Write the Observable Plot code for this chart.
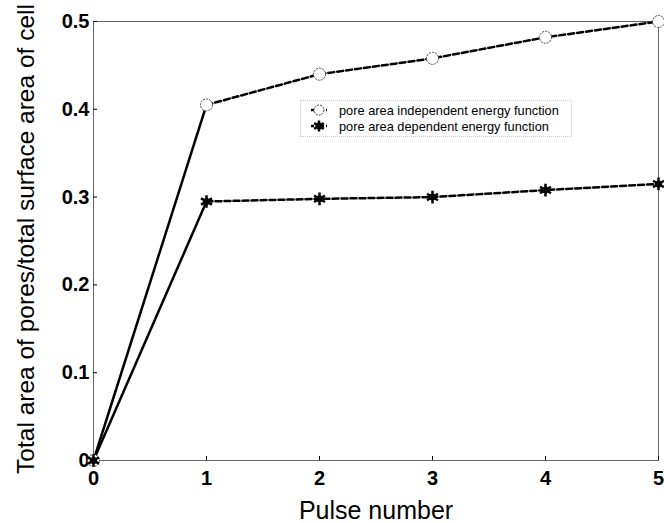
<!DOCTYPE html>
<html>
<head>
<meta charset="utf-8">
<script src="https://cdn.jsdelivr.net/npm/d3@7"></script>
<script src="https://cdn.jsdelivr.net/npm/@observablehq/plot@0.6"></script>
<style>
  body { margin: 0; background: #fff; }
  #wrap { position: relative; width: 664px; height: 523px; font-family: "Liberation Sans", Arial, sans-serif; }
  #legend { position: absolute; left: 300px; top: 100px; width: 272px; height: 37px; border: 1px dotted #ccc; box-sizing: border-box; font-size: 12.8px; color: #000; }
  #legend .row { position: absolute; left: 8px; height: 16px; display: flex; align-items: center; white-space: nowrap; }
  #legend svg { margin-right: 10px; }
</style>
</head>
<body>
<div id="wrap"></div>
<script>
const pulses = [0, 1, 2, 3, 4, 5];
const independent = [0, 0.405, 0.44, 0.458, 0.482, 0.5];
const dependent = [0, 0.295, 0.298, 0.300, 0.308, 0.315];
const seriesNames = ["pore area independent energy function", "pore area dependent energy function"];
const xTicks = [0, 1, 2, 3, 4, 5];
const yTicks = [0, 0.1, 0.2, 0.3, 0.4, 0.5];

const data = [];
pulses.forEach((p, i) => {
  data.push({pulse: p, value: independent[i], series: seriesNames[0]});
  data.push({pulse: p, value: dependent[i], series: seriesNames[1]});
});
const first = data.filter(d => d.pulse <= 1);
const rest = data.filter(d => d.pulse >= 1);

const chart = Plot.plot({
  width: 664,
  height: 523,
  marginLeft: 93,
  marginRight: 6,
  marginTop: 21,
  marginBottom: 63,
  style: {fontFamily: "Liberation Sans, Arial, sans-serif", background: "#fff", color: "#000"},
  x: {domain: [0, 5]},
  y: {domain: [0, 0.5]},
  marks: [
    Plot.frame({stroke: "#666", strokeWidth: 1}),
    Plot.axisX({ticks: xTicks, tickSize: -4, tickPadding: 14, fontSize: 20, fontWeight: "bold", label: null, tickFormat: d => String(d)}),
    Plot.axisY({ticks: yTicks, tickSize: -4, tickPadding: 8, fontSize: 20, fontWeight: "bold", label: null, tickFormat: d => String(d)}),
    Plot.line(first, {x: "pulse", y: "value", z: "series", stroke: "#000", strokeWidth: 2.5}),
    Plot.line(rest, {x: "pulse", y: "value", z: "series", stroke: "#000", strokeWidth: 2.5, strokeDasharray: "6,3"}),
    Plot.dot(data.filter(d => d.series === seriesNames[0]), {x: "pulse", y: "value", r: 6, fill: "#fff", stroke: "#444", strokeWidth: 1, strokeDasharray: "2,1"}),
    Plot.dot(data.filter(d => d.series === seriesNames[1]), {x: "pulse", y: "value", r: 3.5, fill: "#000", stroke: "none"}),
    Plot.dot(data.filter(d => d.series === seriesNames[1]), {x: "pulse", y: "value", r: 6, symbol: "asterisk", stroke: "#000", strokeWidth: 2.5}),
    Plot.text(["Pulse number"], {frameAnchor: "bottom", lineAnchor: "middle", dy: 50, fontSize: 25, fill: "#000"}),
    Plot.text(["Total area of pores/total surface area of cell"], {frameAnchor: "left", textAnchor: "middle", rotate: -90, dx: -67, dy: -2, fontSize: 24.5, fill: "#000"})
  ]
});
const wrap = document.getElementById("wrap");
wrap.appendChild(chart);

const legend = document.createElement("div");
legend.id = "legend";
const glyphs = [
  '<svg width="20" height="14"><line x1="2" y1="7" x2="18" y2="7" stroke="#000" stroke-width="2.5" stroke-dasharray="3,2"/><circle cx="10" cy="7" r="5" fill="#fff" stroke="#444" stroke-dasharray="2,1"/></svg>',
  '<svg width="20" height="14"><line x1="2" y1="7" x2="18" y2="7" stroke="#000" stroke-width="2.5" stroke-dasharray="3,2"/><circle cx="10" cy="7" r="3.5" fill="#000"/><g stroke="#000" stroke-width="2.5"><line x1="10" y1="1.5" x2="10" y2="12.5"/><line x1="5.2" y1="4.2" x2="14.8" y2="9.8"/><line x1="5.2" y1="9.8" x2="14.8" y2="4.2"/></g></svg>'
];
seriesNames.forEach((name, i) => {
  const row = document.createElement("div");
  row.className = "row";
  row.style.top = (i === 0 ? 1 : 17) + "px";
  row.innerHTML = glyphs[i] + "<span>" + name + "</span>";
  legend.appendChild(row);
});
wrap.appendChild(legend);
</script>
</body>
</html>
